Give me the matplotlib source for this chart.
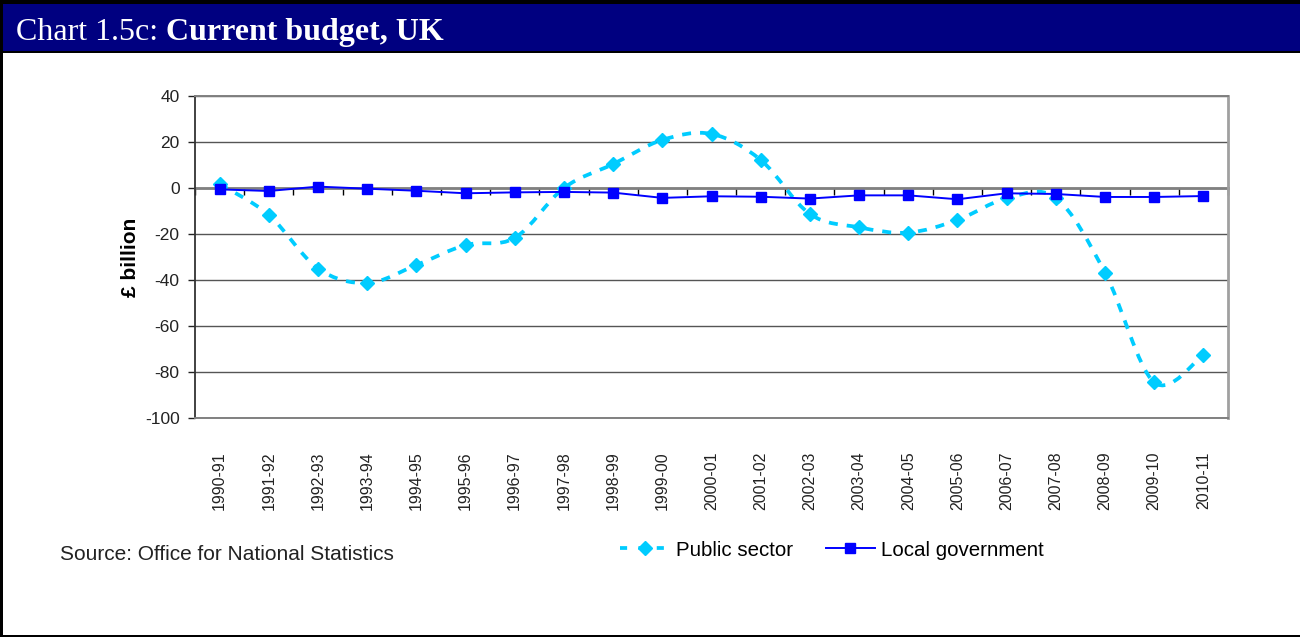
"""Chart 1.5c: Current budget, UK (public sector vs local government)."""

import matplotlib
matplotlib.use("Agg")
import matplotlib.pyplot as plt
import numpy as np
from matplotlib.lines import Line2D
from matplotlib.patches import PathPatch, Rectangle
from matplotlib.path import Path

years = ["1990-91", "1991-92", "1992-93", "1993-94", "1994-95", "1995-96",
         "1996-97", "1997-98", "1998-99", "1999-00", "2000-01", "2001-02",
         "2002-03", "2003-04", "2004-05", "2005-06", "2006-07", "2007-08",
         "2008-09", "2009-10", "2010-11"]
public_sector = [1.7, -11.7, -35.0, -41.3, -33.5, -24.8, -21.7, 0.0, 10.4,
                 20.9, 23.5, 12.2, -11.3, -17.1, -19.4, -13.9, -4.5, -4.3,
                 -36.8, -84.5, -72.5]
local_gov = [-0.6, -1.3, 0.6, -0.3, -1.2, -2.3, -1.9, -1.7, -2.0, -4.3,
             -3.6, -3.8, -4.6, -3.2, -3.2, -4.9, -2.3, -2.6, -3.9, -3.9, -3.5]
y_ticks = [40, 20, 0, -20, -40, -60, -80, -100]

CYAN = "#00CCFF"
BLUE = "#0000FF"
NAVY = "#000080"
SANS = "Liberation Sans"
SERIF = "Liberation Serif"


def smooth_path(xs, ys):
    # Excel-style smoothed line: cubic Bezier through every point
    pts = np.column_stack([xs, ys]).astype(float)
    ext = np.vstack([pts[0], pts, pts[-1]])
    verts = [pts[0]]
    codes = [Path.MOVETO]
    for i in range(len(pts) - 1):
        p0, p1, p2, p3 = ext[i], ext[i + 1], ext[i + 2], ext[i + 3]
        verts += [p1 + (p2 - p0) / 6, p2 - (p3 - p1) / 6, p2]
        codes += [Path.CURVE4] * 3
    return Path(verts, codes)


fig = plt.figure(figsize=(13, 6.37), dpi=100)
W, H = 1300, 637


def frame_rect(x0, y0, w, h, color):
    fig.patches.append(Rectangle((x0, y0), w, h, transform=fig.transFigure,
                                 facecolor=color, edgecolor="none", zorder=-5))


# frame and title bar
frame_rect(0, 1 - 53 / H, 1, 53 / H, "black")
frame_rect(0, 1 - 50.5 / H, 1, 46.5 / H, NAVY)
frame_rect(0, 0, 2.5 / W, 1, "black")
frame_rect(0, 0, 1, 2.5 / H, "black")

ax = fig.add_axes([195 / W, 1 - 418 / H, (1228 - 195) / W, (418 - 96) / H])
x = np.arange(len(years))

t1 = fig.text(16 / W, 1 - 40 / H, "Chart 1.5c: ", fontsize=23, family=SERIF,
              color="white", va="baseline", ha="left")
ax.annotate("Current budget, UK", xy=(1, 0), xycoords=t1, fontsize=23,
            family=SERIF, fontweight="bold", color="white",
            va="bottom", ha="left", annotation_clip=False)

ax.add_patch(PathPatch(smooth_path(x, public_sector), fill=False,
                       edgecolor=CYAN, linewidth=2.7,
                       linestyle=(0, (2.4, 2.4)), zorder=3))
ax.plot(x, public_sector, linestyle="none", marker="D", markersize=7,
        color=CYAN, zorder=4)
ax.plot(x, local_gov, color=BLUE, linewidth=1.4, marker="s", markersize=7,
        zorder=5)

ymin, ymax = -100, 40
ax.set_xlim(-0.5, len(years) - 0.5)
ax.set_ylim(ymin, ymax)
ax.set_yticks(y_ticks)
ax.set_yticklabels([str(v) for v in y_ticks], fontsize=12.5, family=SANS,
                   color="#222222")
ax.tick_params(axis="y", length=5, width=1, color="#222222", pad=6)
ax.set_xticks(x)
ax.set_xticklabels(years, rotation=90, fontsize=11.5, family=SANS,
                   color="#222222")
ax.tick_params(axis="x", length=0, pad=24)
ax.yaxis.grid(True, color="#555555", linewidth=1)
ax.set_axisbelow(True)

ax.spines["left"].set_color("#333333")
ax.spines["left"].set_linewidth(1.3)
for side in ("top", "bottom"):
    ax.spines[side].set_color("#808080")
    ax.spines[side].set_linewidth(1.4)
ax.spines["right"].set_color("#a0a0a0")
ax.spines["right"].set_linewidth(2)

# category axis sitting on the zero line
zero_pos = (0 - ymin) / (ymax - ymin)
sec = ax.secondary_xaxis(zero_pos)
sec.set_xticks(np.arange(-0.5, len(years), 1))
sec.set_xticklabels([])
sec.tick_params(direction="in", length=5, width=1, color="black")
for sp in sec.spines.values():
    sp.set_color("#808080")
    sp.set_linewidth(2)
sec.set_zorder(1.8)

ax.set_ylabel("£ billion", fontsize=15, family=SANS, fontweight="bold")
ax.yaxis.set_label_coords(-55 / (1228 - 195), 0.5)

fig.text(60 / W, 1 - 555 / H, "Source: Office for National Statistics",
         fontsize=15, family=SANS, color="#222222", va="center", ha="left")

handles = [
    Line2D([], [], color=CYAN, linewidth=2.7, linestyle=(0, (1.9, 3.0)),
           marker="D", markersize=7),
    Line2D([], [], color=BLUE, linewidth=1.4, marker="s", markersize=7),
]
fig.legend(handles, ["Public sector", "Local government"], ncol=2,
           loc="center", bbox_to_anchor=(832 / W, 1 - 550 / H), frameon=False,
           prop={"family": SANS, "size": 14.8}, handlelength=2.4,
           handletextpad=0.3, columnspacing=1.6, borderpad=0)

fig.savefig("out.png", dpi=100, facecolor="white")
